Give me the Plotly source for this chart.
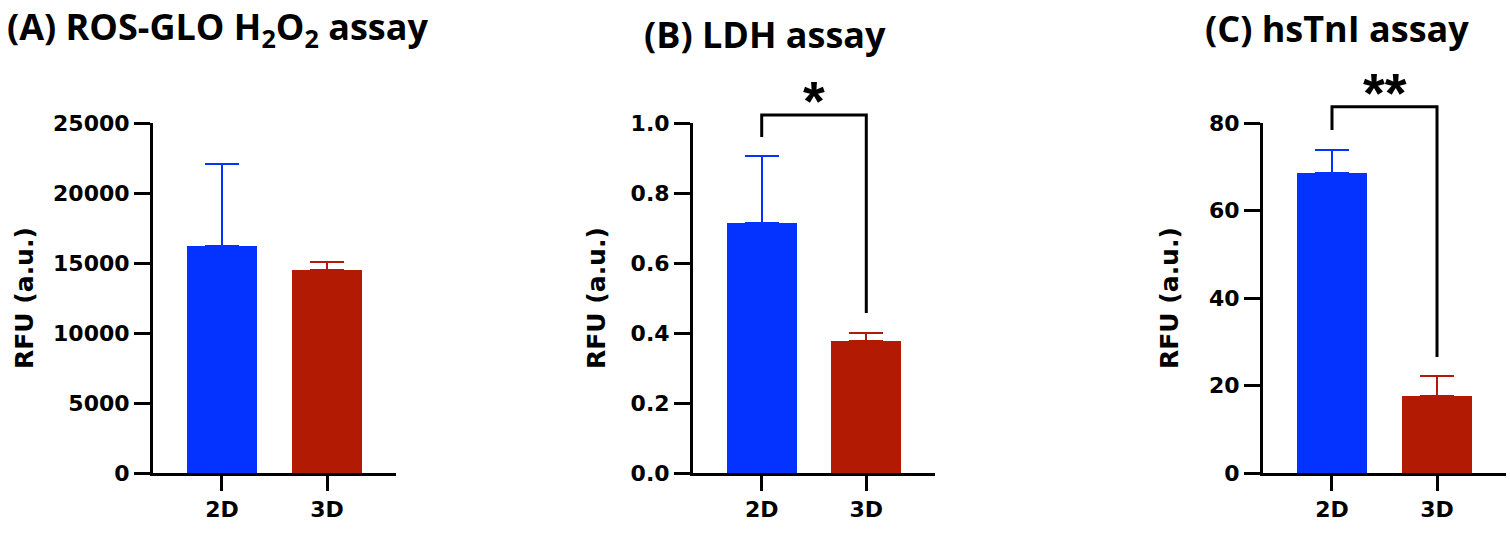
import plotly.graph_objects as go

# Data
groups = ["2D", "3D"]
ros_mean = [16200, 14500]
ros_sd = [5900, 600]
ldh_mean = [0.715, 0.378]
ldh_sd = [0.19, 0.022]
tni_mean = [68.5, 17.7]
tni_sd = [5.4, 4.4]

titles = ["(A) ROS-GLO H<sub>2</sub>O<sub>2</sub> assay", "(B) LDH assay", "(C) hsTnI assay"]
y_ranges = [[0, 25000], [0, 1.0], [0, 80]]
y_dticks = [5000, 0.2, 20]
y_formats = ["d", ".1f", "d"]

# significance brackets: (panel, top, left leg end, right leg end, label)
brackets = [
    (1, 1.023, 0.96, 0.457, "*"),
    (2, 83.7, 78.4, 26.5, "**"),
]

bar_colors = ["#0433FF", "#B31A04"]

W, H = 1510, 545
x_domains = [[153 / W, 396 / W], [693 / W, 935 / W], [1263 / W, 1506 / W]]
y_domain = [(H - 473) / H, (H - 123) / H]

tick_font = dict(family="DejaVu Sans", size=22, color="black", weight="bold")


def to_paper(v, rng):
    # data value -> paper fraction for the shared y domain
    return y_domain[0] + (v - rng[0]) / (rng[1] - rng[0]) * (y_domain[1] - y_domain[0])


fig = go.Figure()

for p, (means, sds) in enumerate([(ros_mean, ros_sd), (ldh_mean, ldh_sd), (tni_mean, tni_sd)]):
    xa = "x" if p == 0 else f"x{p + 1}"
    ya = "y" if p == 0 else f"y{p + 1}"
    for i, g in enumerate(groups):
        # mean + SD, error bar only upwards
        fig.add_trace(go.Bar(
            x=[g], y=[means[i]], xaxis=xa, yaxis=ya,
            marker=dict(color=bar_colors[i], line=dict(width=0)),
            width=0.667,
            error_y=dict(type="data", symmetric=False, array=[sds[i]], arrayminus=[0],
                         color=bar_colors[i], thickness=2, width=17),
            showlegend=False,
        ))

    ax = dict(
        domain=x_domains[p], anchor=ya, range=[-0.657, 1.657], automargin=False,
        showline=True, linewidth=3, linecolor="black", layer="above traces",
        ticks="outside", ticklen=15, tickwidth=3, tickcolor="black",
        tickfont=tick_font, showgrid=False, zeroline=False, fixedrange=True,
    )
    ay = dict(
        domain=y_domain, anchor=xa, range=y_ranges[p], dtick=y_dticks[p], automargin=False,
        tickformat=y_formats[p], layer="above traces",
        showline=True, linewidth=3, linecolor="black",
        ticks="outside", ticklen=16, tickwidth=3, tickcolor="black",
        tickfont=tick_font, showgrid=False, zeroline=False, fixedrange=True,
    )
    fig.update_layout(**{("xaxis" if p == 0 else f"xaxis{p + 1}"): ax,
                         ("yaxis" if p == 0 else f"yaxis{p + 1}"): ay})

# panel titles
title_pos = [(5, 29), (642, 34), (1203, 29)]
for t, (px, py) in zip(titles, title_pos):
    fig.add_annotation(text=t, xref="paper", yref="paper", x=px / W, y=1 - py / H,
                       xanchor="left", yanchor="middle", showarrow=False,
                       font=dict(family="Open Sans", size=36, color="black", weight="bold"))

# y-axis titles
for cx in [24, 596, 1169]:
    fig.add_annotation(text="RFU (a.u.)", xref="paper", yref="paper", x=cx / W, y=1 - 298 / H,
                       xanchor="center", yanchor="middle", textangle=-90, showarrow=False,
                       font=dict(family="DejaVu Sans", size=25, color="black", weight="bold"))

# significance brackets
for p, top, left_end, right_end, label in brackets:
    xa = f"x{p + 1}"
    rng = y_ranges[p]
    fig.add_shape(type="path", xref=xa, yref="paper",
                  path=(f"M 0,{to_paper(left_end, rng)} L 0,{to_paper(top, rng)} "
                        f"L 1,{to_paper(top, rng)} L 1,{to_paper(right_end, rng)}"),
                  line=dict(color="black", width=3))
    fig.add_annotation(text=label, xref=xa, yref="paper", x=0.5, y=to_paper(top, rng),
                       yanchor="middle", showarrow=False, yshift=14,
                       font=dict(family="Liberation Sans", size=56, color="black", weight="bold"))

fig.update_layout(
    template="none",
    width=W, height=H, margin=dict(l=0, r=0, t=0, b=0, autoexpand=False),
    paper_bgcolor="white", plot_bgcolor="white", bargap=0,
)

fig.write_html("out.html", config={"displayModeBar": False},
               post_script="document.body.style.margin='0';")
